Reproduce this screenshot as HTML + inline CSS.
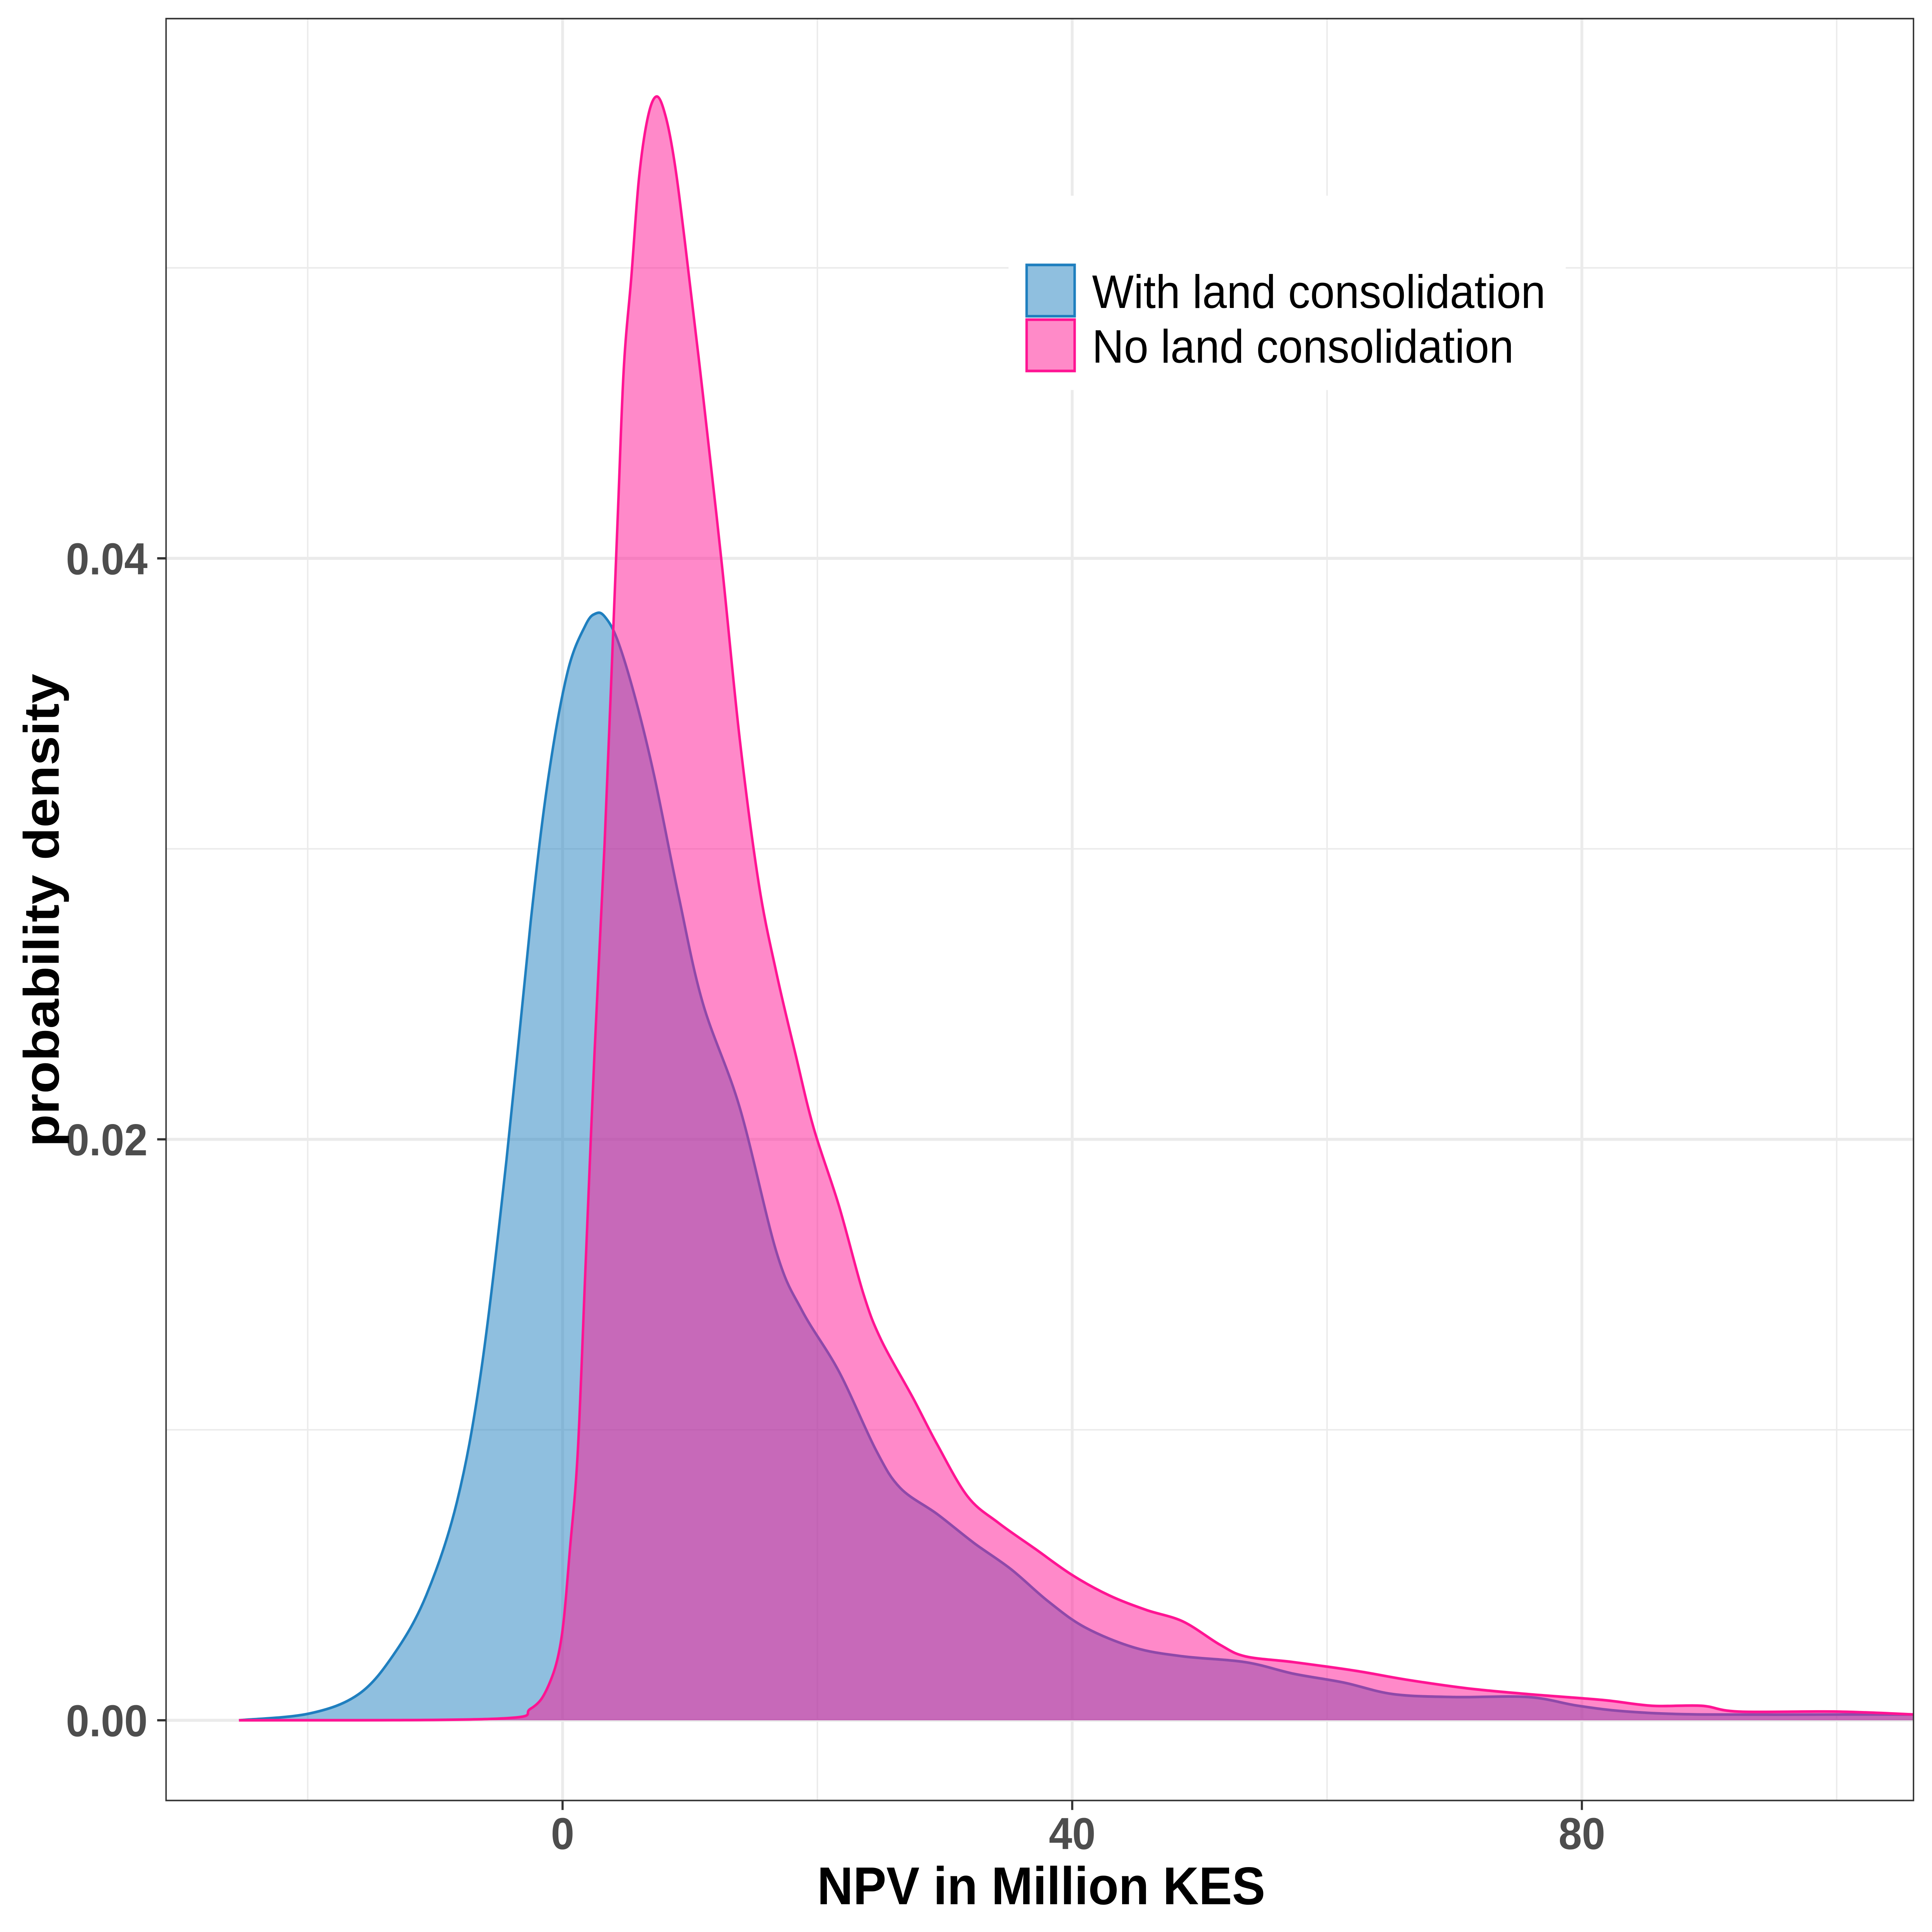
<!DOCTYPE html>
<html><head><meta charset="utf-8"><style>
html,body{margin:0;padding:0;background:#fff;width:100%;height:100%;overflow:hidden}
svg{position:fixed;left:0;top:0;width:100vw;height:100vh;display:block}
text{font-family:"Liberation Sans",Arial,sans-serif}
</style></head><body>
<svg id="chart" viewBox="0 0 5433 5083" preserveAspectRatio="none" xmlns="http://www.w3.org/2000/svg">
<rect x="0" y="0" width="5433" height="5083" fill="#fff"/>
<g id="grid"></g>
<g id="series"></g>
<g id="axes"></g>
<g id="legend">
  <rect x="2836" y="515" width="1567" height="511" fill="#fff"/>
  <rect x="2887" y="697" width="135" height="135" fill="#8fbfdf" stroke="#1f7fbf" stroke-width="7"/>
  <rect x="2887" y="841" width="135" height="135" fill="#ff8ac8" stroke="#ff1493" stroke-width="7"/>
  <text x="3071" y="810" font-size="124" fill="#000">With land consolidation</text>
  <text x="3071" y="954" font-size="124" fill="#000">No land consolidation</text>
</g>
<text x="2928" y="5010" font-size="140" font-weight="bold" text-anchor="middle" fill="#000">NPV in Million KES</text>
<text transform="translate(165,2395) rotate(-90)" font-size="140" font-weight="bold" text-anchor="middle" fill="#000">probability density</text>
</svg>
<script>
const withX = [-25.4,-19.9,-16.0,-13.2,-10.7,-8.3,-6.4,-4.4,-2.5,-1.1,0.4,1.8,2.6,3.3,4.3,5.7,7.2,9.1,11.0,13.9,16.8,18.8,21.7,24.6,26.5,29.4,32.3,35.2,38.1,41.0,44.9,48.7,53.6,57.4,61.3,65.2,70.0,75.8,79.7,83.6,89.4,101,106.1];
const withY = [0,0.00023,0.0009,0.0023,0.0043,0.0075,0.0120,0.0193,0.0275,0.0325,0.0361,0.0377,0.0381,0.0380,0.0372,0.0352,0.0325,0.0284,0.0247,0.0211,0.0161,0.0141,0.0120,0.0093,0.0080,0.0071,0.0061,0.0052,0.0041,0.0032,0.0025,0.0022,0.0020,0.0016,0.0013,0.0009,0.0008,0.0008,0.0005,0.0003,0.0002,0.0002,0.0002];
const noX = [-25.4,-5.4,-2.5,-1.1,-0.1,0.6,1.2,1.8,2.5,3.3,4.3,4.8,5.4,6.0,6.7,7.4,8.1,8.8,9.6,11.0,12.5,13.9,15.4,16.8,18.3,19.7,21.7,23.6,25.0,27.5,29.4,31.8,34.2,37.1,40.0,42.9,45.8,48.7,51.6,53.6,57.4,62.3,66.2,71.0,75.8,81.6,85.5,89.4,92.3,100,106.1];
const noY = [0,0.00005,0.0004,0.0012,0.0028,0.0060,0.0093,0.0156,0.0229,0.0302,0.0411,0.0465,0.0497,0.0531,0.0552,0.0559,0.0552,0.0536,0.0509,0.0457,0.0398,0.0338,0.0288,0.0257,0.0229,0.0204,0.0177,0.0147,0.0131,0.0111,0.0095,0.0077,0.0068,0.0059,0.0050,0.0043,0.0038,0.0034,0.0026,0.0022,0.0020,0.0017,0.0014,0.0011,0.0009,0.0007,0.0005,0.0005,0.0003,0.0003,0.0002];
const xMajor = [0,40,80];
const xMajorLabels = ["0","40","80"];
const xMinor = [-20,20,60,100];
const yMajor = [0,0.02,0.04];
const yMajorLabels = ["0.00","0.02","0.04"];
const yMinor = [0.01,0.03,0.05];

const NS="http://www.w3.org/2000/svg";
const L=467,R=5381,T=49,B=4737;
const sx=v=>1582+35.83*v;
const sy=v=>4526-76425*v;
function mk(tag,attrs,parent){const e=document.createElementNS(NS,tag);for(const k in attrs)e.setAttribute(k,attrs[k]);parent.appendChild(e);return e;}
const grid=document.getElementById('grid'),series=document.getElementById('series'),axes=document.getElementById('axes');
mk('rect',{x:L,y:T,width:R-L,height:B-T,fill:'#fff'},grid);
xMinor.forEach(v=>{const e=mk('line',{x1:sx(v),x2:sx(v),y1:T,y2:B,stroke:'#ebebeb','stroke-width':4},grid);

});
yMinor.forEach(v=>{const e=mk('line',{x1:L,x2:R,y1:sy(v),y2:sy(v),stroke:'#ebebeb','stroke-width':4},grid);

});
xMajor.forEach(v=>{const e=mk('line',{x1:sx(v),x2:sx(v),y1:T,y2:B,stroke:'#ebebeb','stroke-width':8},grid);

});
yMajor.forEach(v=>{const e=mk('line',{x1:L,x2:R,y1:sy(v),y2:sy(v),stroke:'#ebebeb','stroke-width':8},grid);

});

function smooth(xs,ys){
  const p=xs.map((x,i)=>[sx(x),sy(ys[i])]);
  let d='M'+p[0][0]+','+p[0][1];
  for(let i=0;i<p.length-1;i++){
    const p0=p[Math.max(0,i-1)],p1=p[i],p2=p[i+1],p3=p[Math.min(p.length-1,i+2)];
    const c1=[p1[0]+(p2[0]-p0[0])/6,p1[1]+(p2[1]-p0[1])/6];
    const c2=[p2[0]-(p3[0]-p1[0])/6,p2[1]-(p3[1]-p1[1])/6];
    d+=' C'+c1[0]+','+c1[1]+' '+c2[0]+','+c2[1]+' '+p2[0]+','+p2[1];
  }
  return d;
}
const cl=mk('clipPath',{id:'pc'},series);mk('rect',{x:L,y:T,width:R-L,height:B-T},cl);
const g=mk('g',{'clip-path':'url(#pc)'},series);
function draw(xs,ys,fill,stroke,name){
  const line=smooth(xs,ys);
  const area=line+' L'+sx(xs[xs.length-1])+','+sy(0)+' L'+sx(xs[0])+','+sy(0)+' Z';
  const a=mk('path',{d:area,fill:fill,'fill-opacity':0.5,stroke:'none'},g);
  
  
  const l=mk('path',{d:line,fill:'none',stroke:stroke,'stroke-width':7,'stroke-linejoin':'round'},g);
  
  
}
draw(withX,withY,'#1f7fbf','#1f7fbf','with-consolidation');
draw(noX,noY,'#ff1493','#ff1493','no-consolidation');

mk('rect',{x:L,y:T,width:R-L,height:B-T,fill:'none',stroke:'#333','stroke-width':4},axes);
xMajor.forEach((v,i)=>{
  mk('line',{x1:sx(v),x2:sx(v),y1:B,y2:B+25,stroke:'#333','stroke-width':6},axes);
  const t=mk('text',{x:sx(v),y:4865,'font-size':118,'font-weight':'bold','text-anchor':'middle',fill:'#4d4d4d'},axes);
  t.textContent=xMajorLabels[i];
  
  
});
yMajor.forEach((v,i)=>{
  mk('line',{x1:L-25,x2:L,y1:sy(v),y2:sy(v),stroke:'#333','stroke-width':6},axes);
  const t=mk('text',{x:415,y:sy(v)+42,'font-size':118,'font-weight':'bold','text-anchor':'end',fill:'#4d4d4d'},axes);
  t.textContent=yMajorLabels[i];
  
  
});
</script>
</body></html>
